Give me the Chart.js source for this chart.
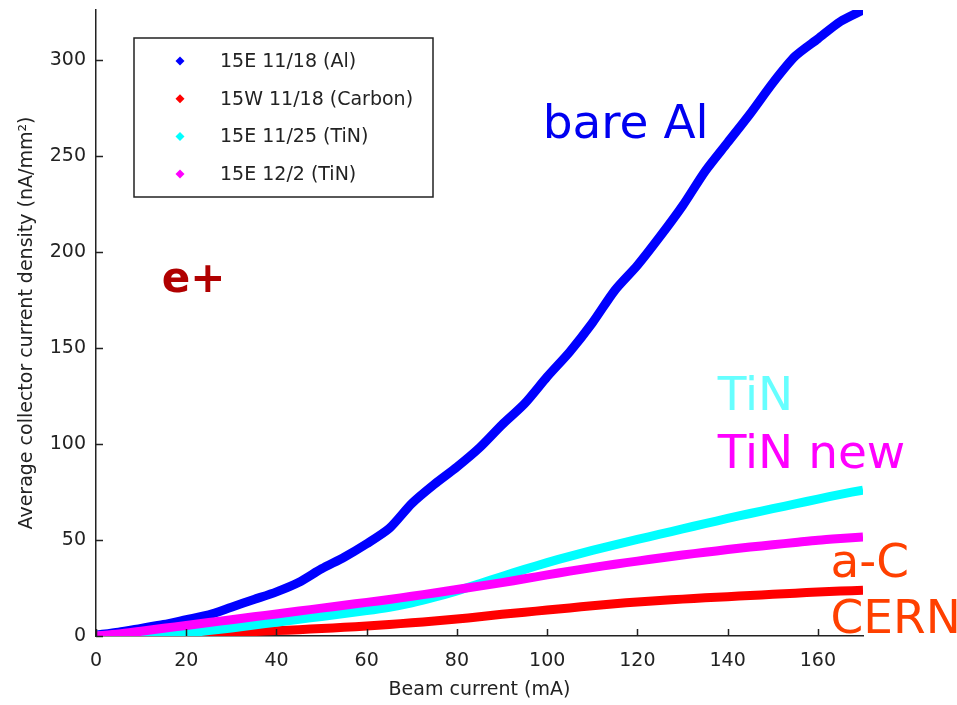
<!DOCTYPE html>
<html>
<head>
<meta charset="utf-8">
<script src="https://cdn.jsdelivr.net/npm/chart.js@4/dist/chart.umd.min.js"></script>
<style>
  html, body { margin: 0; padding: 0; background: #fff; }
  #box { width: 957px; height: 705px; position: relative; }
</style>
</head>
<body>
<div id="box"><canvas id="collectorChart"></canvas></div>
<script>
// beam current (mA), shared by all four runs
const beamCurrent = [0, 5, 10, 15, 20, 25, 30, 35, 40, 45, 50, 55, 60, 65, 70, 75, 80, 85,
  90, 95, 100, 105, 110, 115, 120, 125, 130, 135, 140, 145, 150, 155, 160, 165, 170]

// average collector current density (nA/mm^2)
const al1118 = [0.5, 2, 4, 6, 8.5, 11, 15, 19, 23, 28, 35, 41, 48, 56, 69, 79, 88, 98,
  110, 121, 135, 148, 163, 180, 193, 208, 224, 242, 257, 272, 288, 302, 311, 320, 326]
const carbon1118 = [0, 0, 0, 0.3, 0.7, 1.2, 1.7, 2.3, 2.8, 3.3, 3.9, 4.5, 5.2, 6, 6.9, 7.8, 8.8, 10,
  11.3, 12.4, 13.5, 14.6, 15.8, 16.8, 17.7, 18.5, 19.2, 19.9, 20.5, 21.1, 21.7, 22.3, 22.9, 23.4, 23.8]
const tin1125 = [0, 0, 0, 0.5, 1.5, 2.8, 4.2, 5.7, 7.2, 8.7, 10.2, 11.7, 13.2, 15, 17.3, 20.2, 23.5, 27.2,
  31, 34.7, 38.2, 41.5, 44.6, 47.5, 50.3, 53, 55.8, 58.5, 61.2, 63.8, 66.3, 68.8, 71.3, 73.8, 76]
const tin122 = [0, 1, 2.5, 4, 5.5, 7, 8.5, 10, 11.5, 13, 14.5, 16, 17.5, 19, 20.7, 22.4, 24.2, 26,
  27.8, 29.8, 31.8, 33.8, 35.6, 37.4, 39, 40.6, 42.2, 43.6, 45, 46.3, 47.5, 48.7, 49.9, 50.8, 51.6]

const seriesLabels = ['15E 11/18 (Al)', '15W 11/18 (Carbon)', '15E 11/25 (TiN)', '15E 12/2 (TiN)']
const seriesColors = ['#0000ff', '#ff0000', '#00ffff', '#ff00ff']
const seriesValues = [al1118, carbon1118, tin1125, tin122]

const xTicks = [0, 20, 40, 60, 80, 100, 120, 140, 160]
const yTicks = [0, 50, 100, 150, 200, 250, 300]

// text written on the plot, anchored at data coordinates
const notes = [
  { text: 'bare Al', x: 99, y: 259.5, color: '#0000f0', bold: false },
  { text: 'e+', x: 14.6, y: 179, color: '#b00000', bold: true },
  { text: 'TiN', x: 137.8, y: 117.5, color: '#66ffff', bold: false },
  { text: 'TiN new', x: 137.8, y: 87.5, color: '#ff00ff', bold: false },
  { text: 'a-C', x: 162.8, y: 30.7, color: '#ff4000', bold: false },
  { text: 'CERN', x: 162.8, y: 1.6, color: '#ff4000', bold: false }
]

const FONT = 'DejaVu Sans, Verdana, sans-serif'
const INK = '#222'

const datasets = seriesValues.map((vals, i) => ({
  label: seriesLabels[i],
  data: vals.map((v, k) => ({ x: beamCurrent[k], y: v })),
  borderColor: seriesColors[i],
  backgroundColor: seriesColors[i],
  borderWidth: 9,
  pointRadius: 0,
  tension: 0.25,
  fill: false,
  order: seriesValues.length - 1 - i
}))

// inward tick marks, like the original axes
const tickMarks = {
  id: 'tickMarks',
  afterDraw (chart) {
    const { ctx, chartArea, scales } = chart
    ctx.save()
    ctx.strokeStyle = INK
    ctx.lineWidth = 1.5
    ctx.beginPath()
    xTicks.forEach(v => {
      const px = Math.round(scales.x.getPixelForValue(v)) + 0.5
      ctx.moveTo(px, chartArea.bottom)
      ctx.lineTo(px, chartArea.bottom - 7)
    })
    yTicks.forEach(v => {
      const py = Math.round(scales.y.getPixelForValue(v)) + 0.5
      ctx.moveTo(chartArea.left, py)
      ctx.lineTo(chartArea.left + 7, py)
    })
    ctx.stroke()
    ctx.restore()
  }
}

// boxed legend in the top left corner
const boxLegend = {
  id: 'boxLegend',
  afterDraw (chart) {
    const { ctx } = chart
    const left = 134
    const top = 38
    ctx.save()
    ctx.fillStyle = '#fff'
    ctx.fillRect(left, top, 299, 159)
    ctx.strokeStyle = INK
    ctx.lineWidth = 1.5
    ctx.strokeRect(left, top, 299, 159)
    ctx.font = '19px ' + FONT
    ctx.textBaseline = 'middle'
    seriesLabels.forEach((label, i) => {
      const cy = top + 23 + i * 37.7
      ctx.fillStyle = seriesColors[i]
      ctx.beginPath()
      ctx.moveTo(180, cy - 4.5)
      ctx.lineTo(184.5, cy)
      ctx.lineTo(180, cy + 4.5)
      ctx.lineTo(175.5, cy)
      ctx.closePath()
      ctx.fill()
      ctx.fillStyle = INK
      ctx.fillText(label, 220, cy + 1)
    })
    ctx.restore()
  }
}

const plotNotes = {
  id: 'plotNotes',
  afterDraw (chart) {
    const { ctx, scales } = chart
    ctx.save()
    ctx.textBaseline = 'alphabetic'
    ctx.textAlign = 'left'
    notes.forEach(n => {
      ctx.font = (n.bold ? 'bold 42px ' : '47px ') + FONT
      ctx.fillStyle = n.color
      ctx.fillText(n.text, scales.x.getPixelForValue(n.x), scales.y.getPixelForValue(n.y))
    })
    ctx.restore()
  }
}

const ctx = document.getElementById('collectorChart').getContext('2d')
new Chart(ctx, {
  type: 'line',
  data: { datasets },
  options: {
    responsive: true,
    maintainAspectRatio: false,
    animation: false,
    layout: { padding: { top: 10, right: 94, left: 0, bottom: 0 } },
    plugins: { legend: { display: false }, tooltip: { enabled: false } },
    scales: {
      x: {
        type: 'linear',
        min: 0,
        max: 170,
        afterBuildTicks: scale => { scale.ticks = xTicks.map(v => ({ value: v })) },
        afterFit: scale => { scale.height = 69 },
        grid: { display: true, drawOnChartArea: false, drawTicks: false },
        border: { color: INK, width: 1.5 },
        ticks: { color: INK, font: { family: FONT, size: 19 }, padding: 14, maxRotation: 0 },
        title: {
          display: true,
          text: 'Beam current (mA)',
          color: INK,
          font: { family: FONT, size: 19 },
          padding: { top: 0, bottom: 4 }
        }
      },
      y: {
        type: 'linear',
        min: 0,
        max: 326,
        afterBuildTicks: scale => { scale.ticks = yTicks.map(v => ({ value: v })) },
        afterFit: scale => {
          scale.width = 96
          scale.paddingTop = 0
          scale.paddingBottom = 0
        },
        grid: { display: true, drawOnChartArea: false, drawTicks: false },
        border: { color: INK, width: 1.5 },
        ticks: { color: INK, font: { family: FONT, size: 19 }, padding: 10 },
        title: {
          display: true,
          text: 'Average collector current density (nA/mm²)',
          color: INK,
          font: { family: FONT, size: 19 },
          padding: { top: 16, bottom: 0 }
        }
      }
    }
  },
  plugins: [tickMarks, boxLegend, plotNotes]
})
</script>
</body>
</html>
